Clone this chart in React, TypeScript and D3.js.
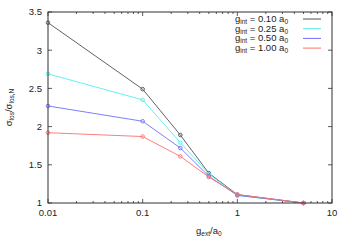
import React from 'react';
import * as d3 from 'd3';

// g_ext / a0 sample points
const gExt = [0.01, 0.1, 0.25, 0.5, 1, 5];

const gIntLabels = ['0.10', '0.25', '0.50', '1.00'];
const seriesColors = ['#505050', '#55eeee', '#6f6fff', '#ff6f6f'];

// sigma_los / sigma_los,N
const ratio010 = [3.36, 2.49, 1.89, 1.39, 1.11, 1.0];
const ratio025 = [2.69, 2.35, 1.79, 1.38, 1.1, 1.0];
const ratio050 = [2.27, 2.07, 1.72, 1.35, 1.1, 1.0];
const ratio100 = [1.92, 1.87, 1.61, 1.34, 1.11, 1.0];
const allSeries = [ratio010, ratio025, ratio050, ratio100];

const yTicks = [1, 1.5, 2, 2.5, 3, 3.5];
const xTicks = [0.01, 0.1, 1, 10];

const W = 350;
const H = 245;
const margin = { top: 12, right: 18, bottom: 42, left: 48 };
const font = "'Liberation Sans', Arial, sans-serif";

const App = () => {
  const iw = W - margin.left - margin.right;
  const ih = H - margin.top - margin.bottom;

  const x = d3.scaleLog().domain([0.01, 10]).range([0, iw]);
  const y = d3.scaleLinear().domain([1, 3.5]).range([ih, 0]);

  const line = d3.line<number>()
    .x((_, i) => x(gExt[i]))
    .y(d => y(d));

  // minor ticks for the log axis (2..9 per decade)
  const minor: number[] = [];
  [0.01, 0.1, 1].forEach(dec => {
    for (let k = 2; k <= 9; k++) minor.push(dec * k);
  });

  const axisColor = '#303030';

  return (
    <svg width={W} height={H} style={{ display: 'block', position: 'absolute', left: 0, top: 0 }} fontFamily={font}>
      <rect width={W} height={H} fill="#fff" />
      <g transform={`translate(${margin.left},${margin.top})`}>
        {/* y ticks, inward on both sides */}
        {yTicks.map(t => (
          <g key={'y' + t}>
            <line x1={0} x2={4} y1={y(t)} y2={y(t)} stroke={axisColor} strokeWidth={0.8} />
            <line x1={iw} x2={iw - 4} y1={y(t)} y2={y(t)} stroke={axisColor} strokeWidth={0.8} />
            <text x={-6} y={y(t)} dy="0.35em" textAnchor="end" fontSize={9.5} fill="#222">{t}</text>
          </g>
        ))}
        {/* x ticks */}
        {xTicks.map(t => (
          <g key={'x' + t}>
            <line x1={x(t)} x2={x(t)} y1={ih} y2={ih - 4} stroke={axisColor} strokeWidth={0.8} />
            <line x1={x(t)} x2={x(t)} y1={0} y2={4} stroke={axisColor} strokeWidth={0.8} />
            <text x={x(t)} y={ih + 10} dy="0.35em" textAnchor="middle" fontSize={9.5} fill="#222">{t}</text>
          </g>
        ))}
        {minor.map(t => (
          <g key={'m' + t}>
            <line x1={x(t)} x2={x(t)} y1={ih} y2={ih - 2} stroke={axisColor} strokeWidth={0.8} />
            <line x1={x(t)} x2={x(t)} y1={0} y2={2} stroke={axisColor} strokeWidth={0.8} />
          </g>
        ))}

        {/* series */}
        {allSeries.map((s, i) => (
          <g key={'s' + i}>
            <path d={line(s) || ''} fill="none" stroke={seriesColors[i]} strokeWidth={0.9} />
            {s.map((v, j) => (
              <circle key={j} cx={x(gExt[j])} cy={y(v)} r={1.8} fill="none" stroke={seriesColors[i]} strokeWidth={0.9} />
            ))}
          </g>
        ))}

        <rect x={0} y={0} width={iw} height={ih} fill="none" stroke={axisColor} strokeWidth={1} />

        {/* legend */}
        {gIntLabels.map((lab, i) => {
          const ly = 7 + i * 9.7;
          return (
            <g key={'l' + i}>
              <text x={240} y={ly} dy="0.3em" textAnchor="end" fontSize={9.5} fill="#222">
                g<tspan fontSize={6.5} dy="2">int</tspan>
                <tspan dy="-2"> = {lab} a</tspan>
                <tspan fontSize={6.5} dy="2">0</tspan>
              </text>
              <line x1={255} x2={273} y1={ly} y2={ly} stroke={seriesColors[i]} strokeWidth={1} />
            </g>
          );
        })}
      </g>

      {/* axis titles */}
      <text x={margin.left + x(0.5)} y={231} dy="0.3em" textAnchor="middle" fontSize={9.5} fill="#222">
        g<tspan fontSize={6.5} dy="2">ext</tspan>
        <tspan dy="-2">/a</tspan>
        <tspan fontSize={6.5} dy="2">0</tspan>
      </text>
      <text transform={`translate(12,${margin.top + ih / 2}) rotate(-90)`} textAnchor="middle" fontSize={9.5} fill="#222">
        σ<tspan fontSize={6.5} dy="2">los</tspan>
        <tspan dy="-2">/σ</tspan>
        <tspan fontSize={6.5} dy="2">los,N</tspan>
      </text>
    </svg>
  );
};

export default App;
